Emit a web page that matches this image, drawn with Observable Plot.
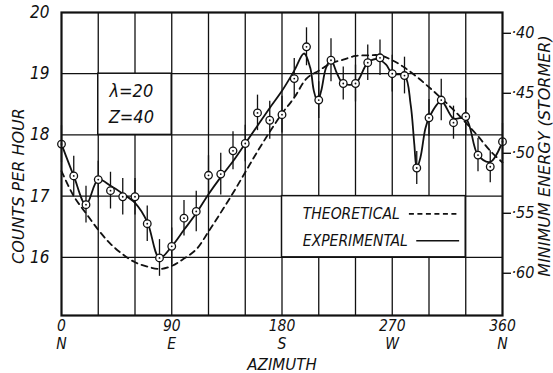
<!DOCTYPE html>
<html><head><meta charset="utf-8">
<script src="https://cdn.jsdelivr.net/npm/d3@7"></script>
<script src="https://cdn.jsdelivr.net/npm/@observablehq/plot@0.6"></script>
<style>
body{margin:0;background:#fff}
#chart svg{font-family:"DejaVu Sans Condensed","DejaVu Sans",sans-serif;font-style:italic}
</style>
</head><body><div id="chart"></div>
<script>
// Observed counting rates (with error bars)
const azimuth = [0,10,20,30,40,50,60,70,80,90,100,110,120,130,140,150,160,170,180,190,200,210,220,230,240,250,260,270,280,290,300,310,320,330,340,350,360];
const counts  = [17.85,17.33,16.86,17.27,17.09,16.99,16.99,16.55,15.99,16.18,16.64,16.75,17.34,17.36,17.74,17.86,18.36,18.24,18.33,18.92,19.44,18.57,19.22,18.84,18.84,19.18,19.26,19.00,18.97,17.46,18.28,18.57,18.20,18.30,17.67,17.48,17.89];
const errors  = [0.30,0.32,0.30,0.30,0.30,0.30,0.30,0.29,0.30,0.30,0.29,0.33,0.32,0.34,0.31,0.30,0.29,0.31,0.30,0.33,0.31,0.30,0.35,0.27,0.30,0.29,0.29,0.30,0.30,0.27,0.30,0.34,0.27,0.30,0.27,0.26,0.30];

// Theoretical curve (dashed)
const theoryAzimuth = [0,10,20,30,40,50,60,70,80,90,100,110,120,130,140,150,160,170,180,190,200,210,220,230,240,250,260,270,280,290,300,310,320,330,340,350,360];
const theoryCounts  = [17.41,17.00,16.72,16.45,16.22,16.05,15.92,15.85,15.81,15.86,15.98,16.13,16.42,16.73,17.05,17.39,17.73,18.05,18.35,18.61,18.92,19.05,19.17,19.23,19.29,19.30,19.30,19.22,19.10,18.95,18.78,18.60,18.41,18.20,17.98,17.74,17.55];

// Experimental curve (solid), as drawn through the points
const fitAzimuth = [0,10,20,30,40,50,60,70,80,90,100,110,120,130,140,150,160,170,180,190,198,203,206,209,212,216,220,225,230,240,250,258,265,270,280,285,288,290,293,297,300,310,320,330,340,350,360];
const fitCounts  = [17.85,17.33,16.86,17.27,17.17,17.04,16.89,16.58,15.99,16.18,16.45,16.72,17.03,17.31,17.57,17.86,18.15,18.44,18.72,19.05,19.33,19.10,18.72,18.55,18.72,19.10,19.22,19.00,18.84,18.84,19.18,19.24,19.15,19.00,18.97,18.50,17.85,17.46,17.63,18.10,18.28,18.55,18.27,18.27,17.67,17.56,17.89];

// Axes
const xTicks = [0,90,180,270,360];
const xTickNames = ["N","E","S","W","N"];
const yTicks = [16,17,18,19,20];
const gridAz = [30,60,90,120,150,180,210,240,270,300,330];
const gridCounts = [16,17,18,19];
const energyTicks = [0.40,0.45,0.50,0.55,0.60];
const energyRef = [0.40,0.60];          // energy values...
const energyRefCounts = [19.66,15.74];  // ...at these counts-per-hour levels

// Annotation boxes (grid cells they fill)
const insetBox = [{az1:30, az2:90, c1:18, c2:19}];
const insetLines = ["λ=20","Z=40"];
const legendBox = [{az1:180, az2:330, c1:16, c2:17}];
const legendItems = [
  {label:"THEORETICAL", c:16.71, az1:284, az2:325, dash:"5,3.5"},
  {label:"EXPERIMENTAL", c:16.27, az1:290, az2:325, dash:null}
];

const obs = azimuth.map((a,i)=>({a, c:counts[i], e:errors[i]}));
const theory = theoryAzimuth.map((a,i)=>({a, c:theoryCounts[i]}));
const fit = fitAzimuth.map((a,i)=>({a, c:fitCounts[i]}));
const energyToCount = d3.scaleLinear().domain(energyRef).range(energyRefCounts);
const titleFont = '"DejaVu Sans",sans-serif';

const chart = Plot.plot({
  width: 553, height: 373,
  marginLeft: 61, marginRight: 51, marginTop: 12, marginBottom: 58,
  x: {domain:[0,360]},
  y: {domain:[15.05,20]},
  style: {fontFamily:'"DejaVu Sans Condensed","DejaVu Sans",sans-serif', fontStyle:"italic", fontSize:"15px", color:"#111", background:"#fff"},
  marks: [
    Plot.gridX(gridAz, {stroke:"#111", strokeOpacity:1, strokeWidth:1.3}),
    Plot.gridY(gridCounts, {stroke:"#111", strokeOpacity:1, strokeWidth:1.3}),
    Plot.rect(insetBox, {x1:"az1", x2:"az2", y1:"c1", y2:"c2", fill:"#fff", stroke:"#111", strokeWidth:1.5}),
    Plot.rect(legendBox, {x1:"az1", x2:"az2", y1:"c1", y2:"c2", fill:"#fff", stroke:"#111", strokeWidth:1.5}),
    Plot.text([insetLines[0]], {x: 57, y: 18.5, dy: -13, text: d=>d, fontSize:18, fill:"#111"}),
    Plot.text([insetLines[1]], {x: 57, y: 18.5, dy: 13, text: d=>d, fontSize:18, fill:"#111"}),
    Plot.line(theory, {x:"a", y:"c", stroke:"#111", strokeWidth:1.8, strokeDasharray:"6,4.5", curve:"catmull-rom"}),
    Plot.line(fit, {x:"a", y:"c", stroke:"#111", strokeWidth:1.8, curve:"catmull-rom"}),
    Plot.ruleX(obs, {x:"a", y1:d=>d.c-d.e, y2:d=>d.c+d.e, stroke:"#111", strokeWidth:1.3}),
    Plot.dot(obs, {x:"a", y:"c", r:3.8, fill:"#fff", stroke:"#111", strokeWidth:1.3}),
    Plot.dot(obs, {x:"a", y:"c", r:0.9, fill:"#111"}),
    Plot.text(legendItems, {x:197, y:"c", text:"label", textAnchor:"start", fontSize:15.5, fill:"#111"}),
    Plot.ruleY(legendItems.filter(d=>d.dash), {y:"c", x1:"az1", x2:"az2", stroke:"#111", strokeWidth:1.6, strokeDasharray:"5,3.5"}),
    Plot.ruleY(legendItems.filter(d=>!d.dash), {y:"c", x1:"az1", x2:"az2", stroke:"#111", strokeWidth:1.6}),
    Plot.frame({stroke:"#111", strokeWidth:2.2}),
    Plot.axisY(yTicks, {anchor:"left", tickSize:0, tickPadding:12, fontSize:17, tickFormat:d=>String(d), label:null}),
    Plot.axisY(energyTicks.map(e=>energyToCount(e)), {anchor:"right", tickSize:8, tickPadding:1, strokeWidth:1.4,
      tickFormat:(d,i)=>"·"+Math.round(energyTicks[i]*100), fontSize:16, label:null}),
    Plot.axisX(xTicks, {anchor:"bottom", tickSize:0, tickPadding:3, lineHeight:1.15, fontSize:15.5,
      tickFormat:(d,i)=>d+"\n"+xTickNames[i], label:null}),
    Plot.text(["COUNTS PER HOUR"], {frameAnchor:"left", textAnchor:"middle", lineAnchor:"middle", rotate:-90, dx:-43, dy:22,
      fontSize:16, fontFamily:titleFont, letterSpacing:"1.8px", fill:"#111"}),
    Plot.text(["MINIMUM ENERGY (STORMER)"], {frameAnchor:"right", textAnchor:"middle", lineAnchor:"middle", rotate:-90, dx:42, dy:-8,
      fontSize:16, fontFamily:titleFont, letterSpacing:"0.8px", fill:"#111"}),
    Plot.text(["AZIMUTH"], {frameAnchor:"bottom", textAnchor:"middle", lineAnchor:"middle", dy:50, fontSize:15,
      fontFamily:titleFont, letterSpacing:"1.6px", fill:"#111"})
  ]
});
document.getElementById("chart").appendChild(chart);
</script>
</body></html>
